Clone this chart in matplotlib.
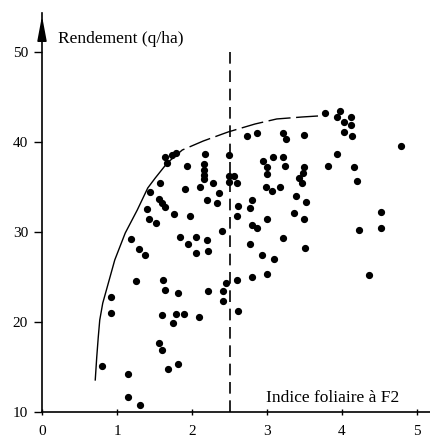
import matplotlib.pyplot as plt

plt.rcParams['font.family'] = ['Liberation Serif', 'DejaVu Serif']

# indice foliaire (x) et rendement (y)
lai = [1.64, 1.67, 1.73, 1.79, 2.17, 1.93, 2.16, 2.16, 2.16, 2.16,
       2.11, 2.28, 1.91, 2.49, 2.49, 2.56, 2.49, 2.60, 2.73, 2.87,
       3.21, 3.25, 3.49, 3.77, 3.97, 3.93, 4.03, 4.12, 4.12, 4.03,
       4.13, 4.79, 3.93, 2.95, 3.00, 3.08, 3.21, 3.24, 3.00, 3.49,
       3.48, 3.43, 3.47, 3.81, 4.16, 4.20, 2.99, 3.07, 3.17, 3.39,
       3.52, 3.36, 3.49, 3.00, 2.80, 2.77, 2.61, 2.60, 2.36, 2.33,
       4.52, 4.52, 4.23, 3.21, 3.51, 2.93, 3.09, 2.80, 2.87, 2.40,
       2.77, 4.36, 2.60, 2.80, 3.00, 2.45, 2.41, 2.41, 2.61, 1.57,
       1.44, 1.56, 1.60, 1.64, 1.40, 1.43, 1.52, 1.76, 1.97, 2.20,
       1.19, 1.29, 1.37, 1.84, 1.95, 2.05, 2.20, 2.05, 2.21, 1.25,
       1.61, 1.64, 1.81, 2.21, 0.92, 0.92, 1.60, 1.79, 1.89, 1.75,
       2.09, 1.56, 1.60, 0.80, 1.15, 1.68, 1.81, 1.15, 1.31]
rendement = [38.33, 37.67, 38.56, 38.78, 38.67, 37.33, 37.56, 36.89, 36.33, 35.89,
             35.00, 35.44, 34.78, 38.56, 36.22, 36.22, 35.56, 35.44, 40.67, 41.00,
             41.00, 40.33, 40.78, 43.22, 43.44, 42.78, 42.22, 42.78, 41.89, 41.11,
             40.67, 39.56, 38.67, 37.89, 37.22, 38.33, 38.33, 37.33, 36.44, 37.22,
             36.56, 36.00, 35.44, 37.33, 37.22, 35.67, 35.00, 34.56, 35.00, 34.00,
             33.33, 32.11, 31.44, 31.44, 33.56, 32.67, 32.89, 31.78, 34.33, 33.22,
             32.22, 30.44, 30.22, 29.33, 28.22, 27.44, 27.00, 30.78, 30.44, 30.11,
             28.67, 25.22, 24.67, 25.00, 25.33, 24.33, 23.44, 22.33, 21.22, 35.44,
             34.44, 33.67, 33.22, 32.78, 32.56, 31.44, 31.00, 32.00, 31.78, 33.56,
             29.22, 28.11, 27.44, 29.44, 28.67, 29.44, 29.11, 27.67, 27.89, 24.56,
             24.67, 23.56, 23.22, 23.44, 22.78, 21.00, 20.78, 20.89, 20.89, 19.89,
             20.56, 17.67, 16.89, 15.11, 14.22, 14.78, 15.33, 11.67, 10.78]

# courbe enveloppe (points relevés)
env_x = [0.71, 0.73, 0.75, 0.77, 0.81, 0.87, 0.97, 1.11, 1.27, 1.41, 1.51, 1.67,
         1.87, 2.15, 2.48, 2.84, 3.13, 3.47, 3.68]
env_y = [13.56, 16.11, 18.30, 20.22, 22.10, 23.89, 26.89, 29.89, 32.44, 34.89, 36.00, 37.67,
         39.11, 40.11, 41.11, 42.00, 42.56, 42.78, 42.89]

seuil = 2.5
seuil_haut = 50.6

fig = plt.figure(figsize=(4.31, 4.37), dpi=100)
ax = fig.add_axes([42 / 431, 25 / 437, 389 / 431, 399 / 437])
ax.set_xlim(0, 389 / 75)
ax.set_ylim(10, 10 + 399 / 9)

ax.plot(lai, rendement, 'o', color='black', markersize=4.2, clip_on=False)

# partie continue puis partie en tirets de l'enveloppe
ax.plot(env_x[:12], env_y[:12], color='black', lw=1.0)
ax.plot(env_x[11:], env_y[11:], color='black', lw=1.0, dashes=(16, 4))

ax.plot([seuil, seuil], [10, seuil_haut], color='black', lw=1.2, dashes=(7, 4))

for s in ['top', 'right']:
    ax.spines[s].set_visible(False)
ax.spines['left'].set_linewidth(1.2)
ax.spines['bottom'].set_linewidth(1.2)

ax.set_xticks([0, 1, 2, 3, 4, 5])
ax.set_yticks([10, 20, 30, 40, 50])
ax.tick_params(axis='x', direction='inout', length=5, width=1, labelsize=11, pad=7)
ax.tick_params(axis='y', direction='out', length=6, width=1, labelsize=11, pad=4)

ax.annotate('', xy=(0, 1.0), xytext=(0, 0.93), xycoords='axes fraction',
            arrowprops=dict(arrowstyle='-|>,head_length=1.5,head_width=0.28',
                            color='black', lw=1.2), annotation_clip=False)

ax.text(0.21, 51.4, 'Rendement (q/ha)', fontsize=12.5, va='center', ha='left')
ax.text(2.99, 11.6, 'Indice foliaire à F2', fontsize=12.5, va='center', ha='left')

fig.savefig('out.png', dpi=100)
